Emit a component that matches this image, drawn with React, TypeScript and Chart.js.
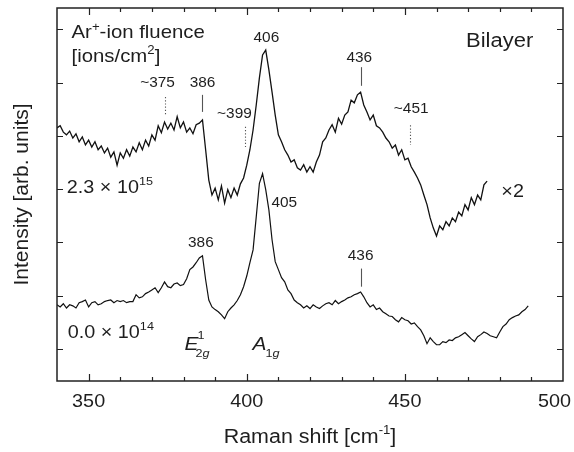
import React, { useEffect, useRef } from 'react';
import { Chart, registerables } from 'chart.js';
Chart.register(...registerables);

const FONT = '"Liberation Sans", Arial, Helvetica, sans-serif';
const INK = '#1e1e1e';

// Raman shift sampling (cm^-1), 1 cm^-1 step
const shiftStart = 340;
const shiftStep = 1;

// 2.3 x 10^15 ions/cm^2 (scaled x2), arb. units
const irradiated = [
  415, 419, 407, 402, 409, 396, 404, 389, 398, 383,
  392, 379, 389, 374, 381, 368, 377, 360, 370, 345,
  368, 358, 374, 362, 379, 370, 387, 374, 392, 381,
  402, 392, 419, 406, 426, 413, 424, 411, 436, 415,
  426, 407, 415, 404, 421, 424, 430, 374, 317, 289,
  302, 280, 306, 274, 299, 284, 302, 289, 310, 321,
  345, 374, 411, 458, 509, 552, 561, 524, 482, 439,
  402, 389, 374, 364, 351, 355, 340, 336, 346, 332,
  342, 332, 351, 364, 389, 396, 411, 421, 407, 433,
  422, 439, 445, 467, 462, 477, 482, 458, 445, 430,
  439, 419, 415, 407, 396, 389, 377, 383, 364, 374,
  355, 358, 342, 332, 321, 308, 289, 271, 246, 227,
  212, 231, 224, 239, 231, 246, 239, 257, 250, 271,
  261, 284, 271, 289, 280, 308, 315,
];

// 0.0 x 10^14 ions/cm^2 (pristine), arb. units
const pristine = [
  83, 79, 85, 77, 83, 81, 77, 87, 89, 92,
  79, 87, 89, 83, 85, 89, 91, 92, 87, 91,
  89, 91, 87, 89, 89, 102, 96, 98, 104, 107,
  111, 115, 106, 115, 126, 117, 115, 122, 124, 119,
  121, 132, 149, 154, 162, 171, 175, 130, 92, 79,
  74, 70, 64, 57, 70, 77, 83, 91, 102, 117,
  137, 162, 186, 248, 311, 329, 299, 261, 205, 164,
  149, 134, 126, 111, 104, 92, 87, 83, 77, 81,
  76, 83, 79, 76, 81, 85, 87, 83, 91, 85,
  89, 92, 96, 98, 102, 104, 107, 98, 87, 79,
  83, 74, 77, 70, 66, 62, 61, 55, 51, 59,
  55, 53, 47, 49, 42, 36, 25, 10, 21, 14,
  8, 8, 14, 12, 17, 16, 21, 23, 27, 31,
  25, 19, 14, 23, 27, 32, 29, 25, 23, 21,
  32, 42, 47, 55, 59, 62, 64, 70, 74, 81,
];

const xMin = 340;
const xMax = 500;
const yMin = -60;
const yMax = 640;
const xMajorTicks = [350, 400, 450, 500];
const xMinorTicks = [350, 360, 370, 380, 390, 400, 410, 420, 430, 440, 450, 460, 470, 480, 490];
const yTicks = [0, 100, 200, 300, 400, 500, 600];

type Part = { t: string; size: number; dy?: number; italic?: boolean; dx?: number };

// text annotations: x, y in data units (baseline), alignment
const labels: { parts: Part[]; x: number; y: number; align: 'left' | 'center' | 'right' }[] = [
  { parts: [{ t: 'Ar', size: 18.5 }, { t: '+', size: 12, dy: -7 }, { t: '-ion fluence', size: 18.5 }], x: 344.6, y: 583, align: 'left' },
  { parts: [{ t: '[ions/cm', size: 18.5 }, { t: '2', size: 12, dy: -8 }, { t: ']', size: 18.5 }], x: 344.6, y: 539, align: 'left' },
  { parts: [{ t: 'Bilayer', size: 20 }], x: 490.6, y: 567, align: 'right' },
  { parts: [{ t: '2.3 \u00d7 10', size: 18 }, { t: '15', size: 11.5, dy: -8 }], x: 343.1, y: 293, align: 'left' },
  { parts: [{ t: '\u00d72', size: 18 }], x: 480.5, y: 286, align: 'left' },
  { parts: [{ t: '0.0 \u00d7 10', size: 18 }, { t: '14', size: 11.5, dy: -8 }], x: 343.4, y: 21, align: 'left' },
  { parts: [{ t: '406', size: 14 }], x: 406.2, y: 576, align: 'center' },
  { parts: [{ t: '386', size: 14 }], x: 386, y: 492, align: 'center' },
  { parts: [{ t: '~375', size: 14 }], x: 371.8, y: 492, align: 'center' },
  { parts: [{ t: '~399', size: 14 }], x: 396.1, y: 434, align: 'center' },
  { parts: [{ t: '~451', size: 14 }], x: 452, y: 443, align: 'center' },
  { parts: [{ t: '436', size: 14 }], x: 435.6, y: 539, align: 'center' },
  { parts: [{ t: '386', size: 14 }], x: 385.5, y: 192, align: 'center' },
  { parts: [{ t: '405', size: 14 }], x: 407.8, y: 267, align: 'left' },
  { parts: [{ t: '436', size: 14 }], x: 436, y: 167, align: 'center' },
];

// marker lines: x, y1, y2 (data units), dotted?
const markers: { x: number; y1: number; y2: number; dotted: boolean }[] = [
  { x: 386, y1: 477, y2: 445, dotted: false },
  { x: 374, y1: 473, y2: 439, dotted: true },
  { x: 399.6, y1: 417, y2: 379, dotted: true },
  { x: 451.6, y1: 420, y2: 383, dotted: true },
  { x: 436, y1: 529, y2: 494, dotted: false },
  { x: 436, y1: 151, y2: 117, dotted: false },
];

const STRETCH = 1.1;

function measureParts(ctx: CanvasRenderingContext2D, parts: Part[], stretch = STRETCH) {
  return parts.map((p) => {
    ctx.font = `${p.italic ? 'italic ' : ''}${p.size}px ${FONT}`;
    return ctx.measureText(p.t).width * stretch;
  });
}

function drawParts(ctx: CanvasRenderingContext2D, x: number, y: number, parts: Part[], align: string, stretch = STRETCH) {
  const widths = measureParts(ctx, parts, stretch);
  const total = widths.reduce((a, b) => a + b, 0);
  let cx = align === 'center' ? x - total / 2 : align === 'right' ? x - total : x;
  parts.forEach((p, i) => {
    ctx.save();
    ctx.translate(cx + (p.dx || 0), y + (p.dy || 0));
    ctx.scale(stretch, 1);
    ctx.font = `${p.italic ? 'italic ' : ''}${p.size}px ${FONT}`;
    ctx.textAlign = 'left';
    ctx.textBaseline = 'alphabetic';
    ctx.fillStyle = INK;
    ctx.fillText(p.t, 0, 0);
    ctx.restore();
    cx += widths[i];
  });
  return total;
}

const decorPlugin = {
  id: 'decor',
  afterDraw(chart: any) {
    const ctx: CanvasRenderingContext2D = chart.ctx;
    const { left, right, top, bottom } = chart.chartArea;
    const xs = chart.scales.x;
    const ys = chart.scales.y;
    const W = chart.width;
    ctx.save();

    // marker lines
    ctx.strokeStyle = '#555';
    ctx.lineWidth = 1.1;
    markers.forEach((m) => {
      ctx.setLineDash(m.dotted ? [1.2, 2] : []);
      const px = Math.round(xs.getPixelForValue(m.x)) + 0.5;
      ctx.beginPath();
      ctx.moveTo(px, ys.getPixelForValue(m.y1));
      ctx.lineTo(px, ys.getPixelForValue(m.y2));
      ctx.stroke();
    });
    ctx.setLineDash([]);

    // labels
    labels.forEach((l) => {
      drawParts(ctx, xs.getPixelForValue(l.x), ys.getPixelForValue(l.y), l.parts, l.align);
    });

    // mode symbols E^1_2g and A_1g
    const eX = xs.getPixelForValue(380.3);
    const base = ys.getPixelForValue(-1.5);
    const ew = drawParts(ctx, eX, base, [{ t: 'E', size: 19, italic: true }], 'left');
    drawParts(ctx, eX + ew - 1, base - 11, [{ t: '1', size: 11.5 }], 'left');
    drawParts(ctx, eX + ew - 3, base + 7, [{ t: '2', size: 11.5 }, { t: 'g', size: 11.5, italic: true }], 'left');
    const aX = xs.getPixelForValue(401.8);
    const aw = drawParts(ctx, aX, base, [{ t: 'A', size: 19, italic: true }], 'left');
    drawParts(ctx, aX + aw - 1, base + 7, [{ t: '1', size: 11.5 }, { t: 'g', size: 11.5, italic: true }], 'left');

    // frame
    ctx.strokeStyle = '#222';
    ctx.lineWidth = 1.5;
    ctx.strokeRect(left, top, right - left, bottom - top);

    // ticks (inward)
    ctx.lineWidth = 1.2;
    ctx.beginPath();
    xMinorTicks.forEach((v) => {
      const px = Math.round(xs.getPixelForValue(v)) + 0.5;
      const len = xMajorTicks.includes(v) ? 7 : 4;
      ctx.moveTo(px, bottom);
      ctx.lineTo(px, bottom - len);
      ctx.moveTo(px, top);
      ctx.lineTo(px, top + len);
    });
    yTicks.forEach((v) => {
      const py = Math.round(ys.getPixelForValue(v)) + 0.5;
      ctx.moveTo(left, py);
      ctx.lineTo(left + 6, py);
      ctx.moveTo(right, py);
      ctx.lineTo(right - 6, py);
    });
    ctx.stroke();

    // tick labels (kept inside the canvas)
    xMajorTicks.forEach((v) => {
      const parts = [{ t: String(v), size: 18 }];
      const w = measureParts(ctx, parts).reduce((a, b) => a + b, 0);
      let cx = xs.getPixelForValue(v);
      if (cx + w / 2 > W - 3) cx = W - 3 - w / 2;
      drawParts(ctx, cx, bottom + 26, parts, 'center');
    });

    // axis titles
    drawParts(ctx, (left + right) / 2, bottom + 62,
      [{ t: 'Raman shift [cm', size: 19.5 }, { t: '-1', size: 12, dy: -9 }, { t: ']', size: 19.5 }], 'center');

    ctx.save();
    ctx.translate(28, (top + bottom) / 2);
    ctx.rotate(-Math.PI / 2);
    ctx.font = `21px ${FONT}`;
    ctx.textAlign = 'center';
    ctx.textBaseline = 'alphabetic';
    ctx.fillStyle = INK;
    ctx.fillText('Intensity [arb. units]', 0, 0);
    ctx.restore();

    ctx.restore();
  },
};

export default function App() {
  const ref = useRef<HTMLCanvasElement | null>(null);
  useEffect(() => {
    if (!ref.current) return;
    const toPoints = (arr: number[]) => arr.map((v, i) => ({ x: shiftStart + i * shiftStep, y: v }));
    const chart = new Chart(ref.current, {
      type: 'line',
      data: {
        datasets: [
          { label: '2.3e15', data: toPoints(irradiated), borderColor: '#111', borderWidth: 1.3, pointRadius: 0, tension: 0, fill: false },
          { label: '0.0e14', data: toPoints(pristine), borderColor: '#111', borderWidth: 1.2, pointRadius: 0, tension: 0, fill: false },
        ],
      },
      options: {
        responsive: false,
        animation: false,
        devicePixelRatio: 1,
        layout: { padding: { left: 57, right: 11, top: 8, bottom: 71 } },
        plugins: { legend: { display: false }, tooltip: { enabled: false } },
        scales: {
          x: { type: 'linear', min: xMin, max: xMax, display: false },
          y: { type: 'linear', min: yMin, max: yMax, display: false },
        },
      },
      plugins: [decorPlugin],
    });
    return () => chart.destroy();
  }, []);
  return (
    <div style={{ position: 'fixed', left: 0, top: 0, width: 574, height: 452, background: '#fff' }}>
      <canvas ref={ref} width={574} height={452} style={{ width: 574, height: 452, display: 'block' }} />
    </div>
  );
}
